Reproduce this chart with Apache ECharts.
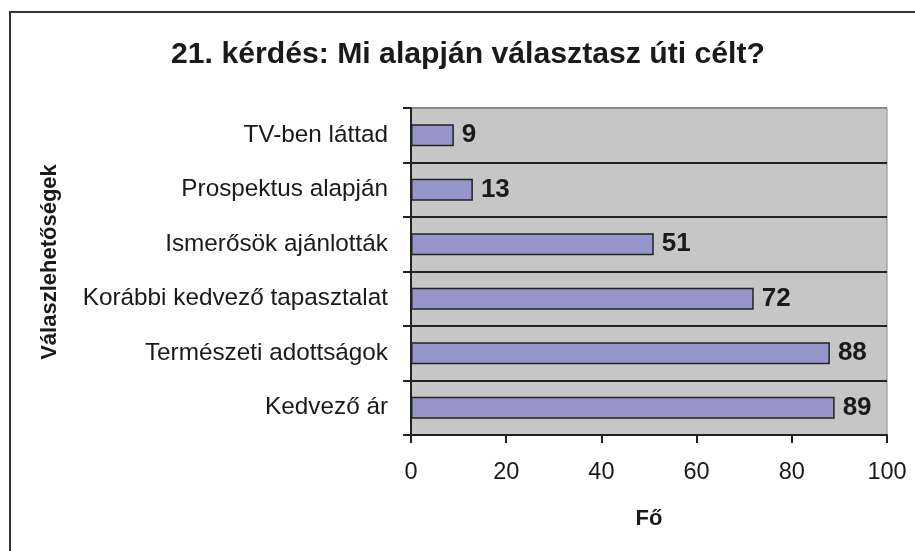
<!DOCTYPE html>
<html>
<head>
<meta charset="utf-8">
<script src="https://cdn.jsdelivr.net/npm/echarts@6/dist/echarts.min.js"></script>
<style>html,body{margin:0;padding:0;background:#fff}#c{width:915px;height:551px}</style>
</head>
<body>
<div id="c"></div>
<script>
const titleText = '21. kérdés: Mi alapján választasz úti célt?';
const categories = ['TV-ben láttad', 'Prospektus alapján', 'Ismerősök ajánlották', 'Korábbi kedvező tapasztalat', 'Természeti adottságok', 'Kedvező ár'];
const values = [9, 13, 51, 72, 88, 89];
const xTicks = [0, 20, 40, 60, 80, 100];
const xName = 'Fő';
const yName = 'Válaszlehetőségek';

const FONT = '"Liberation Sans", Arial, sans-serif';
const chart = echarts.init(document.getElementById('c'), null, {renderer: 'canvas'});
chart.setOption({
  animation: false,
  backgroundColor: '#fff',
  title: {
    text: titleText, left: 463, top: 50, textAlign: 'center', textVerticalAlign: 'middle',
    textStyle: {fontFamily: FONT, fontSize: 30.2, fontWeight: 'bold', color: '#1a1a1a'}
  },
  graphic: [
    {type: 'rect', shape: {x: 10, y: 12, width: 930, height: 580}, style: {fill: 'none', stroke: '#333', lineWidth: 2}, silent: true},
    {type: 'text', x: 50, y: 262, rotation: Math.PI / 2,
     style: {text: yName, font: 'bold 22px ' + FONT, fill: '#1a1a1a', textAlign: 'center', textVerticalAlign: 'middle'}}
  ],
  grid: {left: 411, right: 28, top: 108, bottom: 116, show: true, backgroundColor: '#c6c6c6', borderColor: '#8a8a8a', borderWidth: 1},
  xAxis: {
    type: 'value', min: xTicks[0], max: xTicks[xTicks.length - 1], interval: 20,
    name: xName, nameLocation: 'middle', nameGap: 73,
    nameTextStyle: {fontFamily: FONT, fontSize: 22, fontWeight: 'bold', color: '#1a1a1a'},
    axisLine: {show: true, lineStyle: {color: '#222', width: 2}},
    axisTick: {show: true, length: 8, lineStyle: {color: '#222', width: 2}},
    axisLabel: {fontFamily: FONT, fontSize: 23.5, color: '#1a1a1a', margin: 26},
    splitLine: {show: false}
  },
  yAxis: {
    type: 'category', data: categories, inverse: true,
    axisLine: {show: true, lineStyle: {color: '#222', width: 2}},
    axisTick: {show: true, length: 8, lineStyle: {color: '#222', width: 2}},
    axisLabel: {fontFamily: FONT, fontSize: 24.3, color: '#1a1a1a', margin: 23},
    splitLine: {show: true, lineStyle: {color: ['#8a8a8a', '#222', '#222', '#222', '#222', '#222', '#222'], width: 2}}
  },
  series: [{
    type: 'bar', data: values, barWidth: 22,
    itemStyle: {color: '#9696ca', borderColor: '#222', borderWidth: 1.5},
    label: {show: true, position: 'right', distance: 8, formatter: '{c}',
      fontFamily: FONT, fontSize: 26, fontWeight: 'bold', color: '#1a1a1a'}
  }]
});
</script>
</body>
</html>
